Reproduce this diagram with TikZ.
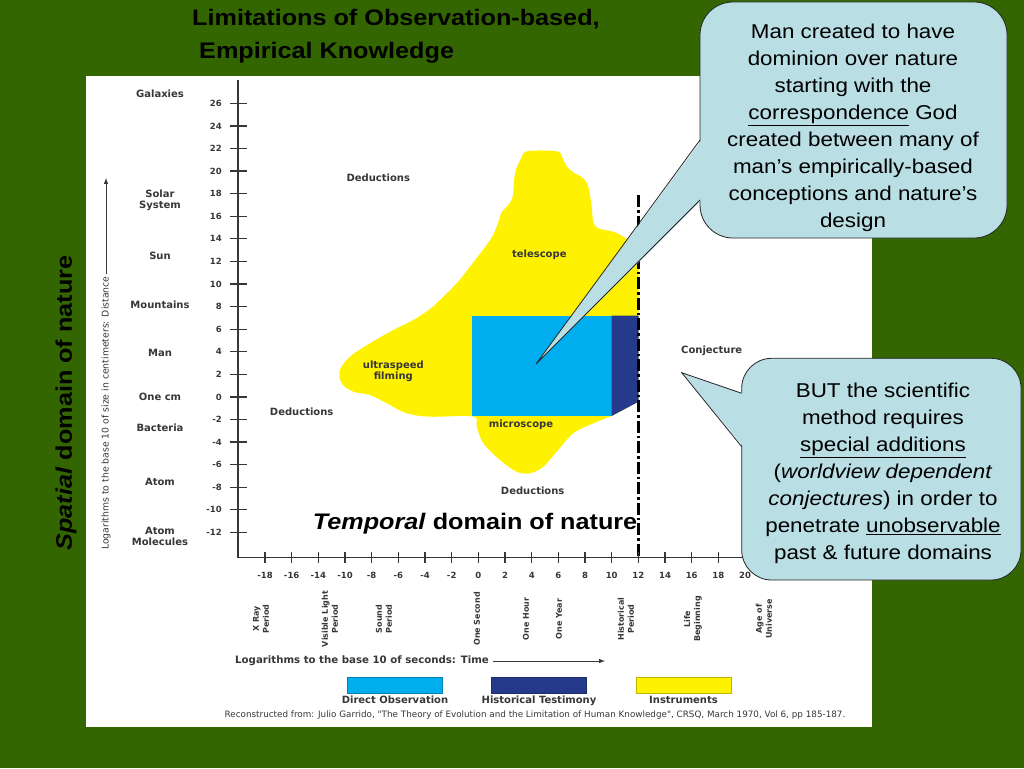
\documentclass[tikz,border=0pt]{standalone}
\usepackage{fontspec}
\newfontfamily\slidefont[FakeStretch=1.12]{Liberation Sans}
\newfontfamily\chartfont{DejaVu Sans}
\usetikzlibrary{positioning}
\definecolor{slidegreen}{RGB}{51,102,0}
\definecolor{directblue}{RGB}{0,174,239}
\definecolor{historyblue}{RGB}{38,58,140}
\definecolor{instryellow}{RGB}{255,242,0}
\definecolor{calloutfill}{RGB}{185,222,228}
\definecolor{chartgray}{RGB}{55,55,55}
\begin{document}
\begin{tikzpicture}[x=1pt, y=-1pt,
    chartlbl/.style = {font=\chartfont\bfseries\fontsize{10}{11}\selectfont, text=chartgray, inner sep=0pt, align=center},
    num/.style = {font=\chartfont\bfseries\fontsize{8.5}{9}\selectfont, text=chartgray, inner sep=0pt},
    period/.style = {font=\chartfont\bfseries\fontsize{8}{10}\selectfont, text=chartgray, inner sep=0pt, align=center, rotate=90},
    axis/.style = {draw=chartgray, line width=1.3pt},
    bubble/.style = {draw=black!85, fill=calloutfill, line width=0.8pt},
    bubbletext/.style = {font=\slidefont\fontsize{20}{27}\selectfont, align=center, inner sep=0pt},
    heading/.style = {font=\slidefont\bfseries\fontsize{22.5}{27}\selectfont, inner sep=0pt},
    legendbox/.style = {minimum width=95pt, minimum height=16pt, inner sep=0pt, draw=#1!75!black, fill=#1, line width=0.5pt}]
    % slide and chart panel
    \fill[slidegreen] (0,0) rectangle (1024,768);
    \useasboundingbox (0,0) rectangle (1024,768);
    \fill[white] (86,76) rectangle (872,727);
    \node[heading, anchor=base west] (title1) at (192,26) {Limitations of Observation-based,};
    \node[heading, anchor=base west] (title2) at (199,59) {Empirical Knowledge};

    % instruments, direct observation, historical testimony
    \fill[instryellow] plot[smooth, tension=0.55] coordinates {(638.5,250) (631.7,243.3) (623.3,236.7) (613.3,231.7) (598.3,228.3) (593.3,222) (591.7,206.7) (588.3,186.7) (583.3,178.3) (570,170) (563.3,160) (559,152) (543,150.5) (526,151.5) (521.7,157) (515,173.3) (512.7,196.7) (506.7,206.7) (501.7,212) (496.7,226.7) (490,240) (470,266.7) (456.7,283.3) (440,300) (430,309) (413.3,320) (393.3,330) (370,343.3) (350,356.7) (340,370) (341.7,383.3) (353.3,391.7) (370,395) (386.7,403.3) (406.7,413.3) (430,416.7) (473,416.5) (476.7,426.7) (483.3,443.3) (500,460) (516.7,471.7) (530,473.3) (543.3,466.7) (556.7,451.7) (573.3,433.3) (593.3,423.3) (611.7,416)} -- (638.5,401.7) -- cycle;
    \fill[directblue] (472.3,315.7) rectangle (611.7,416);
    \fill[historyblue] (611.7,315.7) -- (638.5,315.7) -- (638.5,401.7) -- (611.7,416) -- cycle;
    \draw[black, line width=2.2pt, dash pattern=on 12pt off 3pt on 2.5pt off 3pt] (638.5,195) -- (638.5,557.5);

    % axes
    \draw[axis] (238,80) -- (238,557.5) -- (765,557.5);
    \foreach \v in {-12,-10,...,26} {
        \draw[axis] (230,{396.9-(\v)*11.29}) -- (247,{396.9-(\v)*11.29});
        \node[num, anchor=east] (v\v) at (222,{396.9-(\v)*11.29}) {\v};
    }
    \foreach \t [count=\i from 0] in {-18,-16,-14,-10,-8,-6,-4,-2,0,2,4,6,8,10,12,14,16,18,20} {
        \draw[axis] ({265+\i*26.67},552) -- ({265+\i*26.67},563);
        \node[num] (h\i) at ({265+\i*26.67},575) {\t};
    }

    % size scale
    \node[chartlbl] (galaxies) at (160,94) {Galaxies};
    \node[chartlbl] (solar) at (160,200) {Solar\\System};
    \node[chartlbl] (sun) at (160,256) {Sun};
    \node[chartlbl] (mountains) at (160,305) {Mountains};
    \node[chartlbl] (man) at (160,353) {Man};
    \node[chartlbl] (onecm) at (160,397) {One cm};
    \node[chartlbl] (bacteria) at (160,428) {Bacteria};
    \node[chartlbl] (atom) at (160,482) {Atom};
    \node[chartlbl] (molecules) at (160,536) {Atom\\Molecules};
    \node[font=\chartfont\fontsize{9.3}{10}\selectfont, text=chartgray, inner sep=0pt, rotate=90, anchor=west] (disttitle) at (106,550) {Logarithms to the base 10 of size in centimeters: Distance};
    \coordinate (disttip) at (106,178);
    \draw[-latex, chartgray, line width=1pt, shorten <=2pt] (disttitle.east) -- (disttip);

    % time scale
    \node[period] (xray) at (261,619) {X Ray\\Period};
    \node[period] (light) at (330,619) {Visible Light\\Period};
    \node[period] (sound) at (384,619) {Sound\\Period};
    \node[period] (second) at (477,619) {One Second};
    \node[period] (hour) at (526,619) {One Hour};
    \node[period] (year) at (559,619) {One Year};
    \node[period] (historical) at (626,619) {Historical\\Period};
    \node[period] (life) at (693,619) {Life\\Beginning};
    \node[period] (universe) at (764,619) {Age of\\Universe};
    \node[chartlbl, anchor=west, font=\chartfont\bfseries\fontsize{10.2}{11}\selectfont] (timetitle) at (235,661) {Logarithms to the base 10 of seconds: Time};
    \coordinate (timetip) at (605,661);
    \draw[-latex, chartgray, line width=1pt, shorten <=4pt] (timetitle.east) -- (timetip);

    % regions
    \node[chartlbl] (deduce1) at (378.3,177.3) {Deductions};
    \node[chartlbl] (deduce2) at (301.7,411.7) {Deductions};
    \node[chartlbl] (deduce3) at (532.7,491) {Deductions};
    \node[chartlbl] (telescope) at (539.3,255) {telescope};
    \node[chartlbl] (filming) at (393.3,371.5) {ultraspeed\\filming};
    \node[chartlbl] (microscope) at (521,425) {microscope};
    \node[chartlbl] (conjecture) at (711.7,350.7) {Conjecture};

    % legend
    \node[legendbox=directblue] (dobox) at (395,685.3) {};
    \node[legendbox=historyblue] (htbox) at (539,685.3) {};
    \node[legendbox=instryellow] (inbox) at (683.5,685.3) {};
    \node[chartlbl, font=\chartfont\bfseries\fontsize{10}{11}\selectfont, below=2.5pt of dobox] (dolbl) {Direct Observation};
    \node[chartlbl, font=\chartfont\bfseries\fontsize{10}{11}\selectfont, below=2.5pt of htbox] (htlbl) {Historical Testimony};
    \node[chartlbl, font=\chartfont\bfseries\fontsize{10}{11}\selectfont, below=2.5pt of inbox] (inlbl) {Instruments};
    \node[font=\chartfont\fontsize{8.8}{9}\selectfont, text=chartgray, inner sep=0pt] (source) at (535,715) {Reconstructed from: Julio Garrido, "The Theory of Evolution and the Limitation of Human Knowledge", CRSQ, March 1970, Vol 6, pp 185-187.};

    % domain captions
    \node[heading, rotate=90] (spatial) at (66,403) {\textit{Spatial} domain of nature};
    \node[heading, anchor=base west] (temporal) at (312.7,529.3) {\textit{Temporal} domain of nature};

    % callouts
    \coordinate (domtip) at (536,364);
    \draw[bubble, rounded corners=33pt] (700,2) rectangle (1007,238);
    \fill[calloutfill] (701.5,140) -- (domtip) -- (701.5,200) -- cycle;
    \draw[bubble, fill=none] (700,140) -- (domtip) -- (700,200);
    \node[bubbletext] (dominion) at (853,127.5) {Man created to have\\dominion over nature\\starting with the\\\underline{correspondence} God\\created between many of\\man’s empirically-based\\conceptions and nature’s\\design};

    \coordinate (conjtip) at (681.7,372.7);
    \draw[bubble, rounded corners=30pt] (741.7,358.3) rectangle (1021,580);
    \fill[calloutfill] (743.2,393.3) -- (conjtip) -- (743.2,446.7) -- cycle;
    \draw[bubble, fill=none] (741.7,393.3) -- (conjtip) -- (741.7,446.7);
    \node[bubbletext] (method) at (883,473) {BUT the scientific\\method requires\\\underline{special additions}\\(\textit{worldview dependent}\\\textit{conjectures}) in order to\\penetrate \underline{unobservable}\\past \& future domains};
\end{tikzpicture}
\end{document}
